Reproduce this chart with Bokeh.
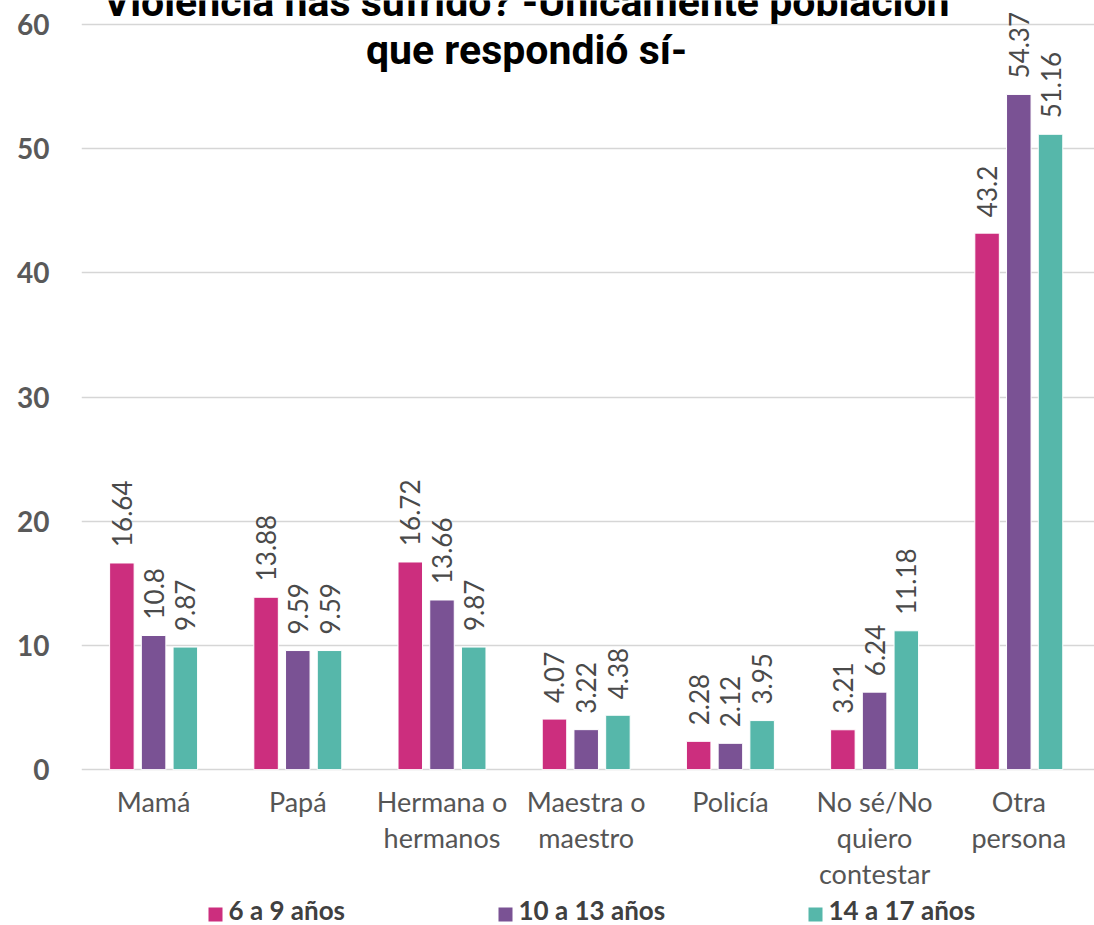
from math import pi
from bokeh.plotting import figure
from bokeh.layouts import column
from bokeh.models import Range1d, FixedTicker, Label, ColumnDataSource
from bokeh.core.properties import value
from bokeh.embed import file_html
from bokeh.resources import INLINE

# ---------------- data ----------------
categories = ["Mamá", "Papá", "Hermana o\nhermanos", "Maestra o\nmaestro",
              "Policía", "No sé/No\nquiero\ncontestar", "Otra\npersona"]
series_names = ["6 a 9 años", "10 a 13 años", "14 a 17 años"]
v_6_9 = [16.64, 13.88, 16.72, 4.07, 2.28, 3.21, 43.2]
v_10_13 = [10.8, 9.59, 13.66, 3.22, 2.12, 6.24, 54.37]
v_14_17 = [9.87, 9.59, 9.87, 4.38, 3.95, 11.18, 51.16]
y_ticks = [0, 10, 20, 30, 40, 50, 60]
title_lines = ["Violencia has sufrido? -Únicamente población",
               "que respondió sí-"]

series_values = [v_6_9, v_10_13, v_14_17]
colors = ["#CC2E7E", "#7A5294", "#56B7AA"]

# ---------------- layout ----------------
W, H = 1094, 925
LEG_H = 32
MAIN_H = H - LEG_H
LEFT, TOP = 81, 0
PX_X = 144.2          # px per category
PX_Y = 12.417         # px per unit
x_end = (W - LEFT) / PX_X
y_end = 60 + 24 / PX_Y
y_start = -0.15
BOTTOM = MAIN_H - round((y_end - y_start) * PX_Y)

p = figure(width=W, height=MAIN_H, output_backend="svg",
           toolbar_location=None,
           x_range=Range1d(0, x_end), y_range=Range1d(y_start, y_end),
           min_border_left=LEFT, min_border_bottom=BOTTOM,
           min_border_top=TOP, min_border_right=0)
p.outline_line_color = None
p.background_fill_color = "white"
p.border_fill_color = "white"

offsets = [-0.220, 0.0, 0.220]
bar_w = 0.170
for vals, off, col in zip(series_values, offsets, colors):
    xs = [i + 0.5 + off for i in range(len(categories))]
    src = ColumnDataSource(dict(x=xs, top=vals, lab=[str(v) for v in vals]))
    p.vbar(x="x", top="top", width=bar_w, source=src,
           fill_color=col, line_color="white", line_width=1)
    p.text(x="x", y="top", text="lab", source=src, angle=pi / 2,
           text_align="left", text_baseline="middle", y_offset=-16,
           text_font=value("Lato"), text_font_size="26px",
           text_color="#4a4a4a")

# axes
p.xaxis.ticker = FixedTicker(ticks=[i + 0.5 for i in range(len(categories))])
p.xaxis.major_label_overrides = {i + 0.5: c for i, c in enumerate(categories)}
p.xaxis.axis_line_color = None
p.xaxis.major_tick_line_color = None
p.xaxis.minor_tick_line_color = None
p.xaxis.major_tick_out = 0
p.xaxis.major_tick_in = 0
p.xaxis.minor_tick_out = 0
p.xaxis.major_label_text_font = "Lato"
p.xaxis.major_label_text_font_size = "27px"
p.xaxis.major_label_text_color = "#555555"
p.xaxis.major_label_text_line_height = 1.1
p.xaxis.major_label_standoff = 13

p.yaxis.ticker = FixedTicker(ticks=y_ticks)
p.yaxis.axis_line_color = None
p.yaxis.major_tick_line_color = None
p.yaxis.minor_tick_line_color = None
p.yaxis.major_label_text_font = "Lato"
p.yaxis.major_label_text_font_style = "bold"
p.yaxis.major_label_text_font_size = "28px"
p.yaxis.major_label_text_color = "#595959"
p.yaxis.major_label_standoff = 26

p.xgrid.grid_line_color = None
p.ygrid.grid_line_color = "#d6d6d6"
p.ygrid.grid_line_width = 1.5

# title (two visible lines, first one partly cut at top as in the source)
title_x = (526 - LEFT) / PX_X
for line, base_px in zip(title_lines, [1, 49]):
    p.add_layout(Label(x=title_x, y=y_end - base_px / PX_Y, text=line,
                       text_align="center", text_baseline="alphabetic",
                       text_font="Roboto",
                       text_font_style="bold", text_font_size="41px",
                       text_color="#000000"))

# ---------------- legend strip ----------------
leg = figure(width=W, height=LEG_H, output_backend="svg",
             toolbar_location=None, x_range=Range1d(LEFT, W),
             y_range=Range1d(0, LEG_H), x_axis_location=None,
             y_axis_location=None, min_border=0, min_border_left=LEFT,
             min_border_right=0)
leg.outline_line_color = None
leg.xgrid.grid_line_color = None
leg.ygrid.grid_line_color = None
leg_x = [208, 498, 808]
leg.rect(x=[x + 7 for x in leg_x], y=[11] * 3, width=14,
         height=14, fill_color=colors, line_color=None)
leg.text(x=[x + 20 for x in leg_x], y=[16] * 3, text=series_names,
         text_align="left", text_baseline="middle",
         text_font=value("Lato"), text_font_style="bold",
         text_font_size="26px", text_color="#404040")

layout = column(p, leg, spacing=0)
open("out.html", "w").write(file_html(layout, INLINE))
